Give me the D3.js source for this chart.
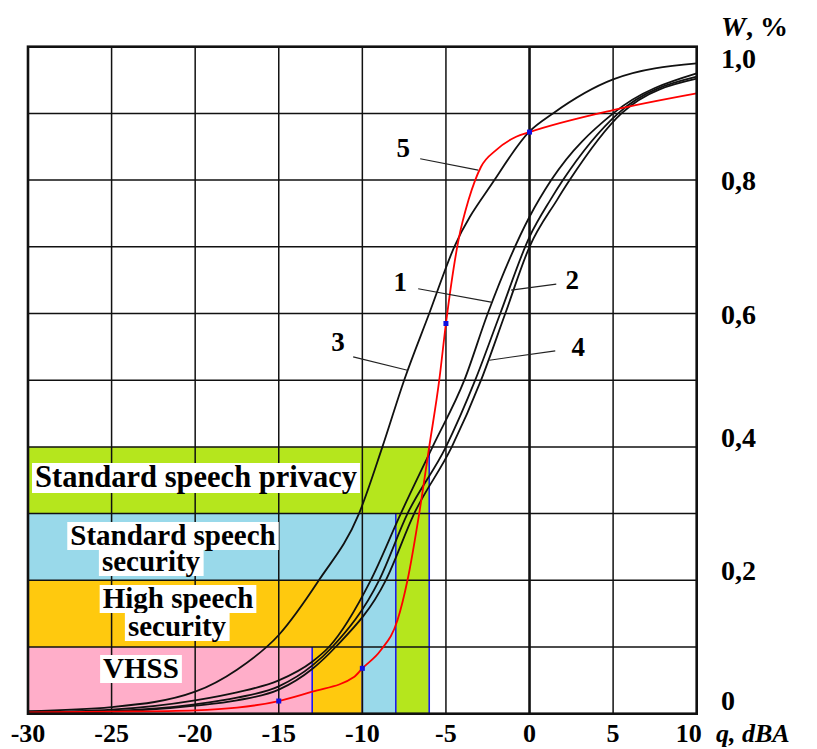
<!DOCTYPE html>
<html>
<head>
<meta charset="utf-8">
<script src="https://cdn.jsdelivr.net/npm/d3@7"></script>
<style>
  body { margin: 0; background: #fff; }
  svg { display: block; }
  text { font-family: "Liberation Serif", "Times New Roman", serif; font-weight: bold; }
</style>
</head>
<body>
<div id="chart"></div>
<script>
const width = 817;
const height = 749;
const marginTop = 46.7;
const marginBottom = 35.3;
const marginLeft = 28;
const marginRight = 120.3;

// axis ticks
const qTicks = [-30, -25, -20, -15, -10, -5, 0, 5, 10];
const wGrid = [0, 0.1, 0.2, 0.3, 0.4, 0.5, 0.6, 0.7, 0.8, 0.9, 1.0];
const wLabels = [0, 0.2, 0.4, 0.6, 0.8, 1.0];

// curves: [q, W]
const curve1 = [[-30,0.002],[-25,0.006],[-20,0.02],[-17.5,0.032],[-15,0.05],[-13,0.078],[-12,0.1],[-9.5,0.2],[-7.7,0.3],[-5.8,0.4],[-3.9,0.5],[-2.5,0.6],[0,0.745],[1.3,0.8],[5,0.9],[10,0.96]];
const curve2 = [[-30,0.0015],[-25,0.004],[-20,0.014],[-17.5,0.024],[-15,0.041],[-13,0.072],[-11.8,0.1],[-9.0,0.2],[-7.3,0.3],[-5.0,0.4],[-3.25,0.5],[-1.75,0.6],[0,0.715],[1.24,0.77],[2.0,0.8],[5.3,0.9],[10,0.955]];
const curve3 = [[-30,0.004],[-25,0.01],[-20,0.033],[-17.5,0.066],[-15,0.118],[-12.6,0.2],[-10.2,0.3],[-8.8,0.4],[-7.5,0.5],[-6.0,0.6],[-4.5,0.7],[-2.1,0.8],[0,0.873],[1.4,0.9],[5,0.951],[10,0.975]];
const curve4 = [[-30,0.001],[-25,0.003],[-20,0.012],[-17.5,0.02],[-15,0.036],[-13,0.067],[-11.6,0.1],[-8.6,0.2],[-6.9,0.3],[-4.65,0.4],[-2.9,0.5],[-1.45,0.6],[0,0.70],[1.64,0.77],[2.4,0.8],[5.5,0.9],[10,0.952]];
const curve5 = [[-30,0.002],[-25,0.003],[-20,0.005],[-17.5,0.009],[-15,0.019],[-13,0.033],[-10.5,0.055],[-10,0.068],[-8.9,0.095],[-7.9,0.14],[-7.3,0.2],[-6.6,0.3],[-6.0,0.4],[-5.4,0.5],[-5,0.585],[-4.25,0.71],[-3.65,0.77],[-3.25,0.8],[-2.9,0.82],[-2.0,0.845],[-0.8,0.865],[0,0.872],[5,0.905],[10,0.93]];
const markedQ = [-15, -10, -5, 0];

// bands
const bandNames = ["Standard speech privacy", "Standard speech security", "High speech security", "VHSS"];
const bandTop = [0.4, 0.3, 0.2, 0.1];
const bandEdge = [-6, -8, -10, -13];
const bandColors = ["#b5e61d", "#99d9ea", "#ffc90e", "#ffaec9"];

const svg = d3.select("#chart").append("svg")
    .attr("width", width)
    .attr("height", height);

const x = d3.scaleLinear().domain([-30, 10]).range([marginLeft, width - marginRight]);
const y = d3.scaleLinear().domain([0, 1]).range([height - marginBottom, marginTop]);

svg.append("rect").attr("width", width).attr("height", height).attr("fill", "#fff");

// coloured bands, widest first
svg.selectAll(".band")
    .data(bandNames)
    .join("rect")
    .attr("class", "band")
    .attr("x", x(-30))
    .attr("y", (d, i) => y(bandTop[i]))
    .attr("width", (d, i) => x(bandEdge[i]) - x(-30))
    .attr("height", (d, i) => y(0) - y(bandTop[i]))
    .attr("fill", (d, i) => bandColors[i]);

svg.selectAll(".edge")
    .data(bandNames)
    .join("line")
    .attr("class", "edge")
    .attr("x1", (d, i) => x(bandEdge[i]))
    .attr("x2", (d, i) => x(bandEdge[i]))
    .attr("y1", (d, i) => y(bandTop[i]))
    .attr("y2", y(0))
    .attr("stroke", "#1c1cf0")
    .attr("stroke-width", 1.6);

// grid
svg.append("g").selectAll("line")
    .data(qTicks)
    .join("line")
    .attr("x1", d => x(d)).attr("x2", d => x(d))
    .attr("y1", y(0)).attr("y2", y(1))
    .attr("stroke", "#111")
    .attr("stroke-width", d => d === 0 ? 2.6 : 1.5);

svg.append("g").selectAll("line")
    .data(wGrid)
    .join("line")
    .attr("x1", x(-30)).attr("x2", x(10))
    .attr("y1", d => y(d)).attr("y2", d => y(d))
    .attr("stroke", "#111")
    .attr("stroke-width", 1.5);

// band labels with white boxes
const bandLabelLayout = [
    [{ text: "Standard speech privacy", cx: 196, cy: 477, size: 30.5 }],
    [{ text: "Standard speech", cx: 173, cy: 535, size: 29 }, { text: "security", cx: 151, cy: 561, size: 29 }],
    [{ text: "High speech", cx: 178, cy: 598, size: 29 }, { text: "security", cx: 177, cy: 626, size: 29 }],
    [{ text: "VHSS", cx: 141, cy: 668, size: 29 }]
];
bandLabelLayout.flat().forEach(l => {
    const g = svg.append("g");
    const t = g.append("text")
        .attr("x", l.cx)
        .attr("y", l.cy)
        .attr("text-anchor", "middle")
        .attr("dominant-baseline", "central")
        .style("font-size", l.size + "px")
        .text(l.text);
    const b = t.node().getBBox();
    g.insert("rect", "text")
        .attr("x", b.x - 3)
        .attr("y", b.y + 3)
        .attr("width", b.width + 6)
        .attr("height", b.height - 4)
        .attr("fill", "#fff");
});

// curves
const line = d3.line()
    .x(d => x(d[0]))
    .y(d => y(d[1]))
    .curve(d3.curveMonotoneX);

[curve1, curve2, curve3, curve4].forEach(c => {
    svg.append("path")
        .datum(c)
        .attr("d", line)
        .attr("fill", "none")
        .attr("stroke", "#111")
        .attr("stroke-width", 1.8);
});

svg.append("path")
    .datum(curve5)
    .attr("d", line)
    .attr("fill", "none")
    .attr("stroke", "#ff0000")
    .attr("stroke-width", 1.8);

svg.selectAll(".dot")
    .data(curve5.filter(d => markedQ.includes(d[0])))
    .join("rect")
    .attr("class", "dot")
    .attr("x", d => x(d[0]) - 2.5)
    .attr("y", d => y(d[1]) - 2.5)
    .attr("width", 5)
    .attr("height", 5)
    .attr("fill", "#1010e0");

// frame
svg.append("rect")
    .attr("x", x(-30))
    .attr("y", y(1))
    .attr("width", x(10) - x(-30))
    .attr("height", y(0) - y(1))
    .attr("fill", "none")
    .attr("stroke", "#111")
    .attr("stroke-width", 2.6);

// curve numbers with leaders
const curveLabels = [
    { name: "5", tq: -7.56, tw: 0.848, from: [-6.54, 0.832], to: [-3.07, 0.815] },
    { name: "1", tq: -7.74, tw: 0.647, from: [-6.66, 0.637], to: [-2.3, 0.617] },
    { name: "2", tq: 2.56, tw: 0.650, from: [1.60, 0.644], to: [-1.1, 0.635] },
    { name: "4", tq: 2.91, tw: 0.550, from: [1.54, 0.544], to: [-2.4, 0.530] },
    { name: "3", tq: -11.45, tw: 0.557, from: [-10.55, 0.535], to: [-7.3, 0.515] }
];
curveLabels.forEach(l => {
    svg.append("line")
        .attr("x1", x(l.from[0])).attr("y1", y(l.from[1]))
        .attr("x2", x(l.to[0])).attr("y2", y(l.to[1]))
        .attr("stroke", "#222")
        .attr("stroke-width", 1.1);
    svg.append("text")
        .attr("x", x(l.tq))
        .attr("y", y(l.tw))
        .attr("text-anchor", "middle")
        .attr("dominant-baseline", "central")
        .style("font-size", "27px")
        .text(l.name);
});

// x tick labels
svg.append("g").selectAll("text")
    .data(qTicks)
    .join("text")
    .attr("x", d => x(d) - (d === 10 ? 8 : 0))
    .attr("y", 742)
    .attr("text-anchor", "middle")
    .style("font-size", "26px")
    .text(d => d);

// y tick labels, nudged as in the original
const yNudge = { 0: -4, 0.2: 0, 0.4: 0, 0.6: 10, 0.8: 10, 1: 21 };
const fmt = d => d === 0 ? "0" : d3.format(".1f")(d).replace(".", ",");
svg.append("g").selectAll("text")
    .data(wLabels)
    .join("text")
    .attr("x", 721)
    .attr("y", d => y(d) + yNudge[d])
    .style("font-size", "28px")
    .text(fmt);

// axis titles
const wTitle = svg.append("text").attr("x", 721).attr("y", 36).style("font-size", "28px");
wTitle.append("tspan").style("font-style", "italic").text("W");
wTitle.append("tspan").text(", %");

svg.append("text")
    .attr("x", 716)
    .attr("y", 742)
    .style("font-size", "26px")
    .style("font-style", "italic")
    .text("q, dBA");
</script>
</body>
</html>
